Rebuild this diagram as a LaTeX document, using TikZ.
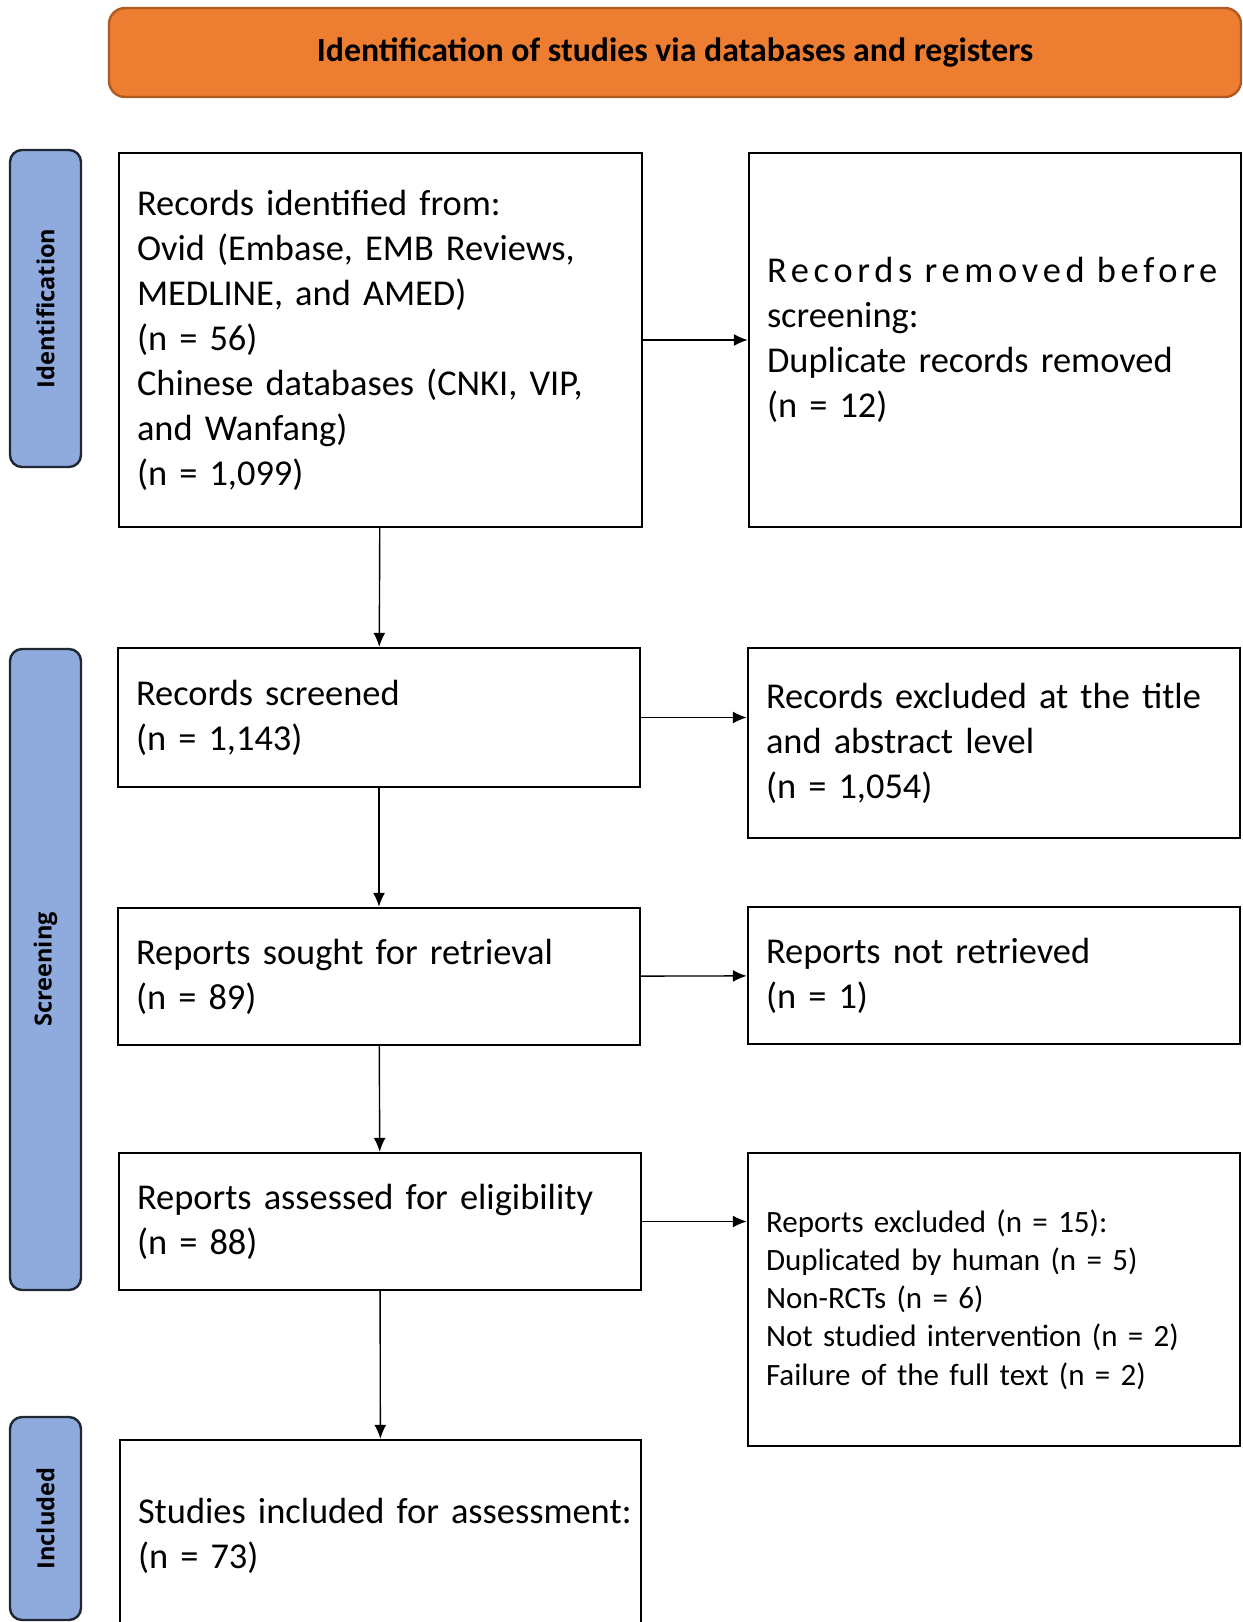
\documentclass[tikz,border=0pt]{standalone}
\usepackage{fontspec}
\setmainfont{Carlito}
\newfontfamily\stagefont{Open Sans}
\usepackage{tikz}
\usetikzlibrary{arrows.meta}
\usepackage{xcolor}
\definecolor{headorange}{RGB}{237,125,49}
\definecolor{headedge}{RGB}{174,90,33}
\definecolor{stageblue}{RGB}{143,170,220}
\definecolor{stageedge}{RGB}{32,40,52}

\begin{document}
\begin{tikzpicture}[x=0.5pt, y=-0.5pt,
    every node/.style={font=\fontsize{18.2}{22.5}\selectfont},
    flowbox/.style={draw, line width=1.2pt, align=left, inner xsep=9pt, inner ysep=0pt},
    stagebox/.style={draw=stageedge, fill=stageblue, line width=1.2pt, rounded corners=6pt,
      rotate=90, minimum height=35.5pt, font=\stagefont\bfseries\fontsize{11.8}{14}\selectfont},
    flow/.style={-{Latex[length=7pt,width=6pt]}, line width=0.7pt}]
        \useasboundingbox (0,0) rectangle (1242,1622);
        \node[draw=headedge, fill=headorange, line width=1.2pt, rounded corners=8pt,
          minimum width=566pt, minimum height=44.5pt,
          font=\bfseries\fontsize{16.9}{20}\selectfont] (head) at (675,52.5)
          {Identification of studies via databases and registers};
        \foreach \y/\h/\name/\label in {
          308.5/158.5pt/ident/Identification,
          969.5/320.5pt/screen/Screening,
          1518.5/101.5pt/incl/Included
        }{
          \node[stagebox, minimum width=\h] (\name) at (45.5,\y) {\label};
        }
        \node[flowbox, text width=243.5pt, minimum height=187pt] (found) at (380.5,340)
          {Records identified from:\\ Ovid (Embase, EMB Reviews,\\ MEDLINE, and AMED)\\ (n = 56)\\
           Chinese databases (CNKI, VIP,\\ and Wanfang)\\ (n = 1,099)};
        \node[flowbox, text width=228pt, minimum height=187pt] (removed) at (995,340)
          {{\addfontfeature{LetterSpace=13}Records removed before}\\ screening:\\
           Duplicate records removed\\ (n = 12)};
        \node[flowbox, text width=243pt, minimum height=69.5pt] (screened) at (379,717.5)
          {Records screened\\ (n = 1,143)};
        \node[flowbox, text width=228pt, minimum height=95pt] (titleout) at (994,743)
          {Records excluded at the title\\ and abstract level\\ (n = 1,054)};
        \node[flowbox, text width=243pt, minimum height=68.5pt] (sought) at (379,976.5)
          {Reports sought for retrieval\\ (n = 89)};
        \node[flowbox, text width=228pt, minimum height=68.5pt] (notret) at (994,975.5)
          {Reports not retrieved\\ (n = 1)};
        \node[flowbox, text width=243pt, minimum height=68.5pt] (assessed) at (380,1221.5)
          {Reports assessed for eligibility\\ (n = 88)};
        \node[flowbox, text width=228pt, minimum height=146.5pt,
          font=\fontsize{15.5}{19.1}\selectfont] (excluded) at (994,1299.5)
          {Reports excluded (n = 15):\\ Duplicated by human (n = 5)\\ Non-RCTs (n = 6)\\
           Not studied intervention (n = 2)\\ Failure of the full text (n = 2)};
        \node[flowbox, text width=242.5pt, minimum height=95.5pt] (included) at (380.5,1535.5)
          {\mbox{Studies included for assessment:}\\ (n = 73)};
        \draw[flow] (found) -- (screened);
        \draw[flow] (screened) -- (sought);
        \draw[flow] (sought) -- (assessed);
        \draw[flow] (assessed) -- (included);
        \draw[flow] (found) -- (removed);
        \draw[flow] (screened) -- (screened -| titleout.west);
        \draw[flow] (sought) -- (notret);
        \draw[flow] (assessed) -- (assessed -| excluded.west);
      \end{tikzpicture}
\end{document}
